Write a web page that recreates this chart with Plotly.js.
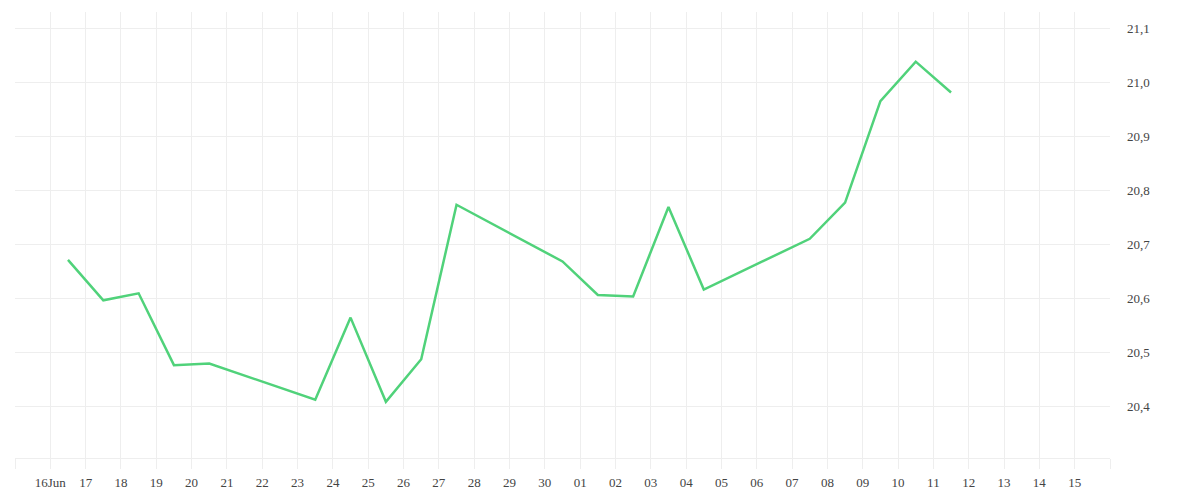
<!DOCTYPE html>
<html>
<head>
<meta charset="utf-8">
<script src="https://cdn.plot.ly/plotly-3.0.1.min.js"></script>
<style>html,body{margin:0;padding:0;background:#fff;}#chart{width:1200px;height:500px;}</style>
</head>
<body>
<div id="chart"></div>
<script>
// Data points (each placed at mid-day)
var dates = ['2023-06-16','2023-06-17','2023-06-18','2023-06-19','2023-06-20',
             '2023-06-23','2023-06-24','2023-06-25','2023-06-26','2023-06-27',
             '2023-06-30','2023-07-01','2023-07-02','2023-07-03','2023-07-04',
             '2023-07-07','2023-07-08','2023-07-09','2023-07-10','2023-07-11'];
var values = [20.671, 20.596, 20.609, 20.476, 20.479,
              20.412, 20.564, 20.408, 20.487, 20.773,
              20.668, 20.606, 20.603, 20.769, 20.616,
              20.710, 20.777, 20.965, 21.038, 20.981];

// X tick positions (day boundaries) and labels
var tickDates = ['2023-06-15','2023-06-16','2023-06-17','2023-06-18','2023-06-19','2023-06-20',
                 '2023-06-21','2023-06-22','2023-06-23','2023-06-24','2023-06-25','2023-06-26',
                 '2023-06-27','2023-06-28','2023-06-29','2023-06-30','2023-07-01','2023-07-02',
                 '2023-07-03','2023-07-04','2023-07-05','2023-07-06','2023-07-07','2023-07-08',
                 '2023-07-09','2023-07-10','2023-07-11','2023-07-12','2023-07-13','2023-07-14',
                 '2023-07-15','2023-07-16'];
var tickLabels = ['','16Jun','17','18','19','20','21','22','23','24','25','26','27','28','29','30',
                  '01','02','03','04','05','06','07','08','09','10','11','12','13','14','15',''];

// Y ticks
var yTickVals = [20.4, 20.5, 20.6, 20.7, 20.8, 20.9, 21.0, 21.1];
var yTickLabels = ['20,4', '20,5', '20,6', '20,7', '20,8', '20,9', '21,0', '21,1'];

var xs = dates.map(function(d){ return d + ' 12:00'; });

var trace = {
  x: xs, y: values, type: 'scatter', mode: 'lines',
  line: {color: '#50d27a', width: 2.5},
  hoverinfo: 'x+y'
};

var fontFam = '"Liberation Serif", "DejaVu Serif", serif';

var layout = {
  width: 1200, height: 500,
  margin: {l: 15, r: 90, t: 12, b: 42},
  paper_bgcolor: '#ffffff', plot_bgcolor: '#ffffff',
  showlegend: false,
  font: {family: fontFam, size: 13, color: '#444444'},
  xaxis: {
    type: 'date',
    range: ['2023-06-15', '2023-07-16'],
    tickmode: 'array', tickvals: tickDates, ticktext: tickLabels,
    showgrid: true, gridcolor: '#eeeeee', gridwidth: 1,
    ticks: 'outside', ticklen: 10, tickcolor: '#eeeeee', tickwidth: 1,
    ticklabelstandoff: 2,
    showline: true, linecolor: '#eeeeee', linewidth: 1, zeroline: false,
    tickfont: {family: fontFam, size: 13, color: '#444444'}
  },
  yaxis: {
    side: 'right',
    range: [20.304, 21.130],
    tickmode: 'array', tickvals: yTickVals, ticktext: yTickLabels,
    showgrid: true, gridcolor: '#eeeeee', gridwidth: 1,
    ticks: '', ticklabelstandoff: 16,
    showline: false, zeroline: false,
    tickfont: {family: fontFam, size: 13, color: '#444444'}
  }
};

Plotly.newPlot('chart', [trace], layout, {displayModeBar: false, staticPlot: true});
</script>
</body>
</html>
